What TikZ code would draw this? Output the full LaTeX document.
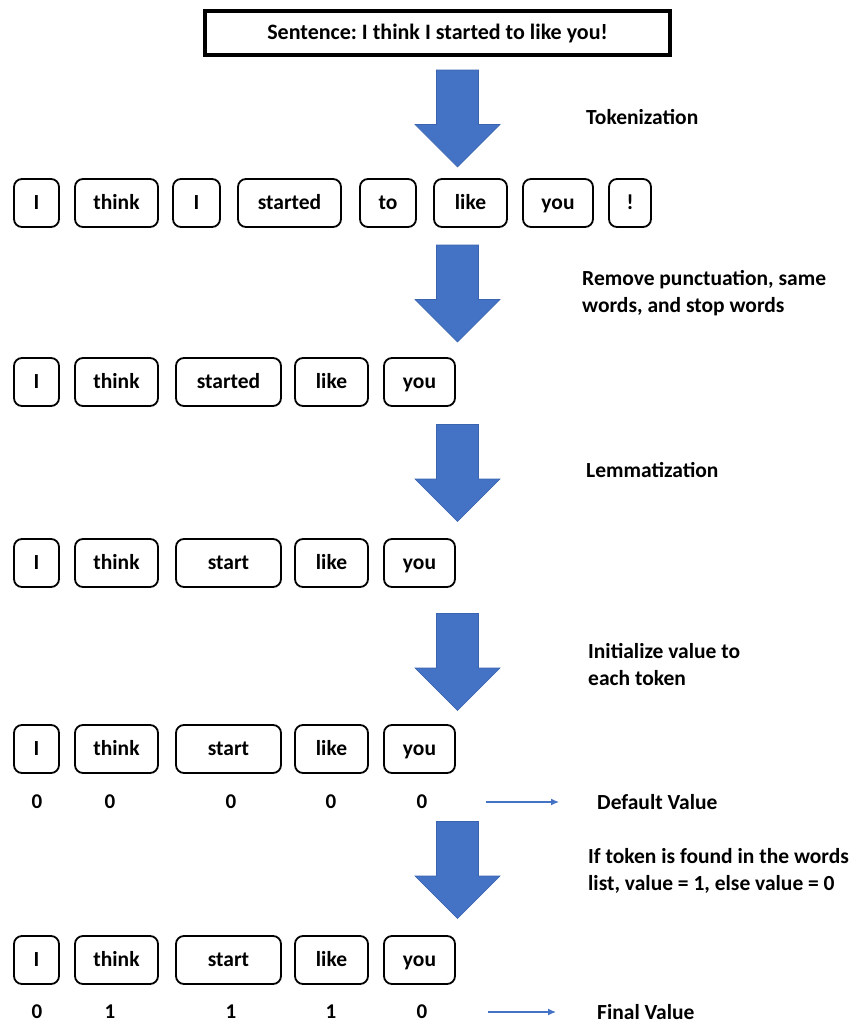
\documentclass[tikz,border=0pt]{standalone}
\usepackage{fontspec}
\setmainfont{Carlito}
\usepackage{xcolor}
\usetikzlibrary{positioning,arrows.meta}
\frenchspacing

\definecolor{stepblue}{HTML}{4472C4}
\definecolor{stepedge}{HTML}{3A64AE}

\tikzset{
  token/.style={draw, line width=1.8pt, rounded corners=8pt, minimum height=48pt,
    inner sep=0pt, text height=14pt, text depth=2pt,
    font=\fontsize{21.5}{25}\selectfont\bfseries},
  sentbox/.style={draw, line width=4pt, minimum width=465pt, minimum height=44pt,
    inner sep=0pt, text height=14pt, text depth=2pt,
    font=\fontsize{22}{26}\selectfont\bfseries},
  bigarrow/.pic={
    \filldraw[fill=stepblue, draw=stepedge, line width=0.6pt]
      (-21,-48.5) -- (21,-48.5) -- (21,6) -- (42.5,6) -- (0,48.5)
      -- (-42.5,6) -- (-21,6) -- cycle;
  },
  steptext/.style={anchor=west, align=left, inner sep=0pt,
    font=\fontsize{21.5}{27}\selectfont\bfseries},
  val/.style={inner sep=0pt, font=\fontsize{21}{25}\selectfont\bfseries},
  valarrow/.style={stepblue, line width=1.3pt, -{Latex[length=8pt,width=7pt]}}
}

\begin{document}
\begin{tikzpicture}[x=1pt,y=-1pt]

\useasboundingbox (0,0) rectangle (858,1023);

% input sentence
\node[sentbox](sent) at (437.5,33) {Sentence: I think I started to like you!};

% tokenization
\pic (a1) at (457.5,118.5) {bigarrow};
\node[steptext](t1) at (586,117) {Tokenization};

\node[token, minimum width=45pt](r1w1) at (36.5,203) {I};
\node[token, minimum width=83pt](r1w2) at (116.5,203) {think};
\node[token, minimum width=47pt](r1w3) at (196.5,203) {I};
\node[token, minimum width=103pt](r1w4) at (289.5,203) {started};
\node[token, minimum width=56pt](r1w5) at (388,203) {to};
\node[token, minimum width=73pt](r1w6) at (470.5,203) {like};
\node[token, minimum width=70pt](r1w7) at (558,203) {you};
\node[token, minimum width=42pt](r1w8) at (630,203) {!};

% removing
\pic (a2) at (457.5,293.5) {bigarrow};
\node[steptext](t2) at (582,293) {Remove punctuation, same\\words, and stop words};

\node[token, minimum width=45pt](r2w1) at (36.5,382) {I};
\node[token, minimum width=83pt](r2w2) at (116.5,382) {think};
\node[token, minimum width=105pt](r2w3) at (228.5,382) {started};
\node[token, minimum width=73pt](r2w4) at (331.5,382) {like};
\node[token, minimum width=71pt](r2w5) at (419.5,382) {you};

% lemmatization
\pic (a3) at (457.5,473) {bigarrow};
\node[steptext](t3) at (586,470) {Lemmatization};

\node[token, minimum width=45pt](r3w1) at (36.5,563) {I};
\node[token, minimum width=83pt](r3w2) at (116.5,563) {think};
\node[token, minimum width=105pt](r3w3) at (228.5,563) {start};
\node[token, minimum width=73pt](r3w4) at (331.5,563) {like};
\node[token, minimum width=71pt](r3w5) at (419.5,563) {you};

% initial values
\pic (a4) at (457.5,662) {bigarrow};
\node[steptext](t4) at (588,665) {Initialize value to\\each token};

\node[token, minimum width=45pt](r4w1) at (36.5,749) {I};
\node[token, minimum width=83pt](r4w2) at (116.5,749) {think};
\node[token, minimum width=105pt](r4w3) at (228.5,749) {start};
\node[token, minimum width=73pt](r4w4) at (331.5,749) {like};
\node[token, minimum width=71pt](r4w5) at (419.5,749) {you};

\node[val](v41) at (37,802) {0};
\node[val](v42) at (110,802) {0};
\node[val](v43) at (231,802) {0};
\node[val](v44) at (331,802) {0};
\node[val](v45) at (422,802) {0};

\coordinate (d1) at (486,802);
\coordinate (d2) at (559,802);
\draw[valarrow] (d1) -- (d2);
\node[steptext](l4) at (597,802) {Default Value};

% final values
\pic (a5) at (457.5,870) {bigarrow};
\node[steptext](t5) at (588,871) {If token is found in the words\\list, value = 1, else value = 0};

\node[token, minimum width=45pt](r5w1) at (36.5,960) {I};
\node[token, minimum width=83pt](r5w2) at (116.5,960) {think};
\node[token, minimum width=105pt](r5w3) at (228.5,960) {start};
\node[token, minimum width=73pt](r5w4) at (331.5,960) {like};
\node[token, minimum width=71pt](r5w5) at (419.5,960) {you};

\node[val](v51) at (37,1012) {0};
\node[val](v52) at (110,1012) {1};
\node[val](v53) at (231,1012) {1};
\node[val](v54) at (331,1012) {1};
\node[val](v55) at (422,1012) {0};

\coordinate (f1) at (488,1012);
\coordinate (f2) at (556,1012);
\draw[valarrow] (f1) -- (f2);
\node[steptext](l5) at (597,1012) {Final Value};

\end{tikzpicture}
\end{document}
